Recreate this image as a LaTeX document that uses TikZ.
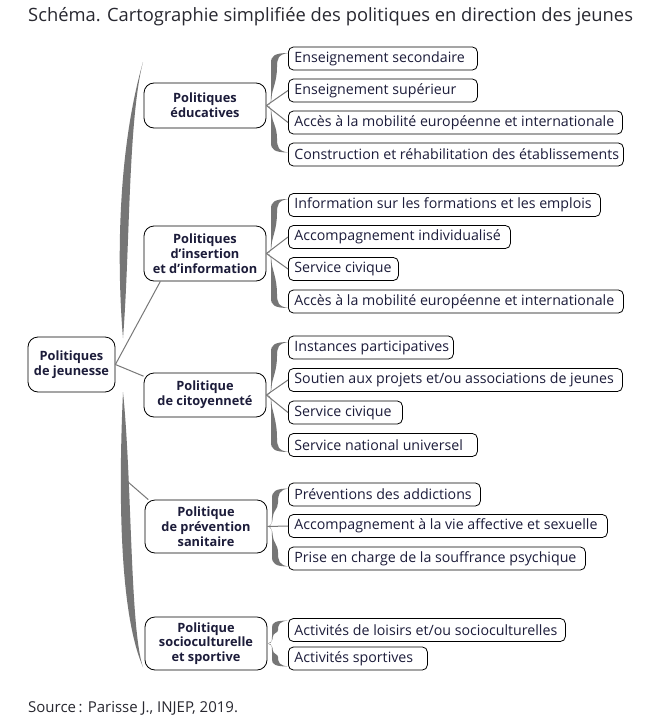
\documentclass[tikz,border=0pt]{standalone}
\usepackage{fontspec}
\setmainfont{Open Sans}
\definecolor{txt}{RGB}{28,28,58}
\definecolor{ttl}{RGB}{40,40,48}
\definecolor{bracecol}{RGB}{118,118,118}
\definecolor{linecol}{RGB}{120,120,120}
\tikzset{
  leaf/.style={draw=black, line width=0.8pt, rounded corners=5pt, fill=white,
    minimum height=23pt, inner xsep=6pt, inner ysep=0pt, anchor=west, text=txt,
    font=\fontsize{14.2}{16}\selectfont},
  cat/.style={draw=black, line width=0.8pt, rounded corners=10pt, fill=white,
    minimum width=122pt, inner sep=0pt, align=center, text=txt,
    font=\bfseries\fontsize{12.8}{14.8}\selectfont},
  fan/.style={draw=linecol, line width=1pt},
}
\newcommand\leafnode[4]{\node[leaf] (#1) at (288,#2) {\makebox[#3pt][l]{#4}};}
% tapered brace arm: tip x, tip y, direction (1 down, -1 up), height, end x offset
\newcommand\brarm[5]{%
  \pgfmathsetmacro\brc{min(10,0.3*#4)}%
  \begin{scope}[shift={(#1,#2)},yscale=#3]
    \fill[bracecol] (0,0) .. controls (4,0.5) and (4,{0.4*\brc}) .. (4,\brc)
      -- (4,{#4-\brc}) .. controls (4,{#4-0.3*\brc}) and (7,#4) .. (#5,#4)
      .. controls (11,{#4-0.1*\brc}) and (10,{#4-0.6*\brc}) .. (10,{#4-1.4*\brc})
      .. controls (10,{0.45*#4}) and (5,{1.6*\brc}) .. (4.7,{0.9*\brc})
      .. controls (4.7,{0.4*\brc}) and (3,{0.1*\brc}) .. (0,0) -- cycle;
  \end{scope}}
\begin{document}
\begin{tikzpicture}[x=1pt,y=-1pt]
\useasboundingbox[fill=white] (0,0) rectangle (663,728);

\node[anchor=base west, inner sep=0pt, text=ttl, font=\fontsize{18.35}{22}\selectfont] (title) at (28,21)
  {Schéma. Cartographie simplifiée des politiques en direction des jeunes};
\node[anchor=base west, inner sep=0pt, text=ttl, font=\fontsize{15}{17}\selectfont] (source) at (28,712)
  {Source\,: Parisse J., INJEP, 2019.};

% root
\node[cat, minimum width=87pt, minimum height=55pt] (root) at (71.5,364.5) {Politiques\\de jeunesse};

% categories
\node[cat, minimum height=45pt] (edu) at (205,105.5) {Politiques\\éducatives};
\node[cat, minimum height=55pt] (ins) at (205,253.5) {Politiques\\d’insertion\\et d’information};
\node[cat, minimum height=44pt] (cit) at (205,395) {Politique\\de citoyenneté};
\node[cat, minimum height=53pt] (prev) at (206,526.5) {Politique\\de prévention\\sanitaire};
\node[cat, minimum height=53pt] (soc) at (206,643.5) {Politique\\socioculturelle\\et sportive};

% leaves
\leafnode{e1}{58.5}{177}{Enseignement secondaire}
\leafnode{e2}{90.5}{177}{Enseignement supérieur}
\leafnode{e3}{122.5}{322}{Accès à la mobilité européenne et internationale}
\leafnode{e4}{154.5}{323}{Construction et réhabilitation des établissements}

\leafnode{i1}{205}{300}{Information sur les formations et les emplois}
\leafnode{i2}{237}{210}{Accompagnement individualisé}
\leafnode{i3}{269}{98}{Service civique}
\leafnode{i4}{301.5}{323}{Accès à la mobilité européenne et internationale}

\leafnode{c1}{347.5}{153}{Instances participatives}
\leafnode{c2}{380}{322}{Soutien aux projets et/ou associations de jeunes}
\leafnode{c3}{412.5}{102}{Service civique}
\leafnode{c4}{445}{177}{Service national universel}

\leafnode{p1}{494.5}{180}{Préventions des addictions}
\leafnode{p2}{526}{307}{Accompagnement à la vie affective et sexuelle}
\leafnode{p3}{558.5}{285}{Prise en charge de la souffrance psychique}

\leafnode{s1}{630}{265}{Activités de loisirs et/ou socioculturelles}
\leafnode{s2}{658.5}{127}{Activités sportives}

% big brace
\fill[bracecol] (123,338) .. controls (118,280) and (115,160) .. (143,62)
  .. controls (128,120) and (130,250) .. (123,338) -- cycle;
\fill[bracecol] (123,392) .. controls (119,480) and (118,610) .. (143,667)
  .. controls (130,630) and (132,480) .. (123,392) -- cycle;
\coordinate (bb) at (128,482);
\draw[fan] (root.east) -- (ins.212);
\draw[fan] (root.east) -- (cit.163);
\draw[fan] (bb) -- (prev.155);

% small braces
\brarm{267}{105.5}{-1}{52.5}{22}
\brarm{267}{105.5}{1}{47}{22}
\draw[fan] (edu.east) -- (e2.west);
\draw[fan] (edu.east) -- (e3.west);

\brarm{267}{253.5}{-1}{54.5}{22}
\brarm{267}{253.5}{1}{54.5}{22}
\draw[fan] (ins.east) -- (i2.west);
\draw[fan] (ins.east) -- (i3.west);

\brarm{267}{395}{-1}{53}{22}
\brarm{267}{395}{1}{57}{22}
\draw[fan] (cit.east) -- (c2.west);
\draw[fan] (cit.east) -- (c3.west);

\brarm{268}{526.5}{-1}{38}{21}
\brarm{268}{526.5}{1}{40}{21}
\draw[fan] (prev.east) -- (p2.west);

\brarm{268}{643.5}{-1}{23}{21}
\brarm{268}{643.5}{1}{23}{21}
\end{tikzpicture}
\end{document}
